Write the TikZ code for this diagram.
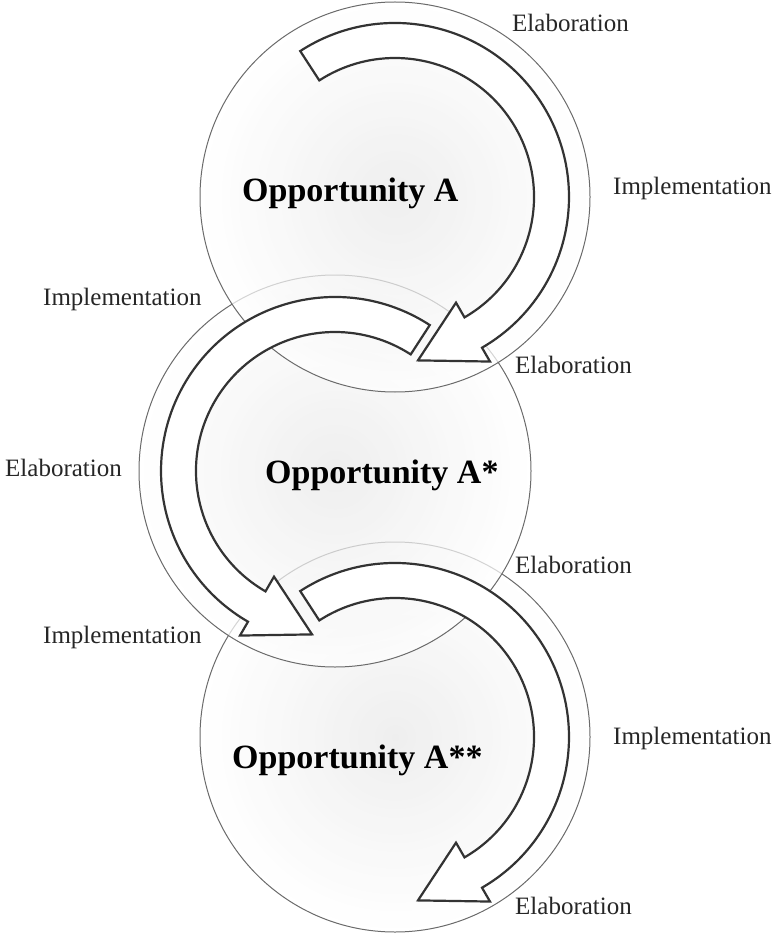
\documentclass[tikz,border=0pt]{standalone}
\usepackage{fontspec}
\setmainfont{Liberation Serif}
\begin{document}
\begin{tikzpicture}[x=1pt,y=1pt,
  lbl/.style={anchor=base west,inner sep=0pt,font=\fontsize{25}{30}\selectfont,text=black!85},
  ttl/.style={anchor=base west,inner sep=0pt,font=\fontsize{34}{40}\selectfont\bfseries,text=black},
  disc/.style={draw=black!58,line width=1pt,inner color=black!9,outer color=white,fill opacity=0.72},
  cycarrow/.style={draw=black!80,line width=2.2pt,fill=white,line join=miter}]
\useasboundingbox (0,0) rectangle (775,-933);
\coordinate (cA) at (395,-197);
\coordinate (cB) at (335,-471);
\coordinate (cC) at (395,-737);
% discs, lowest first so the upper one lies on top
\shadedraw[disc] (cC) circle[radius=195];
\shadedraw[disc] (cB) circle[radius=196];
\shadedraw[disc] (cA) circle[radius=195];
% circular block arrows
\begin{scope}[shift={(cA)}]
\draw[cycarrow] (123:174) arc[start angle=123,end angle=-60,radius=174] -- (-60:190) -- (-82:165) -- (-60:122) -- (-60:139) arc[start angle=-60,end angle=123,radius=139] -- cycle;
\end{scope}
\begin{scope}[shift={(cB)}]
\draw[cycarrow] (57:174) arc[start angle=57,end angle=240,radius=174] -- (240:190) -- (262:165) -- (240:122) -- (240:139) arc[start angle=240,end angle=57,radius=139] -- cycle;
\end{scope}
\begin{scope}[shift={(cC)}]
\draw[cycarrow] (123:174) arc[start angle=123,end angle=-60,radius=174] -- (-60:190) -- (-82:165) -- (-60:122) -- (-60:139) arc[start angle=-60,end angle=123,radius=139] -- cycle;
\end{scope}
% titles
\node[ttl] (tA) at (242,-202) {Opportunity A};
\node[ttl] (tB) at (265,-483) {Opportunity A*};
\node[ttl] (tC) at (232,-768) {Opportunity A**};
% labels
\node[lbl] (l1) at (512,-32) {Elaboration};
\node[lbl] (l2) at (613,-195) {Implementation};
\node[lbl] (l3) at (43,-305) {Implementation};
\node[lbl] (l4) at (515,-373) {Elaboration};
\node[lbl] (l5) at (5,-476) {Elaboration};
\node[lbl] (l6) at (515,-573) {Elaboration};
\node[lbl] (l7) at (43,-643) {Implementation};
\node[lbl] (l8) at (613,-744) {Implementation};
\node[lbl] (l9) at (515,-914) {Elaboration};
\end{tikzpicture}
\end{document}
